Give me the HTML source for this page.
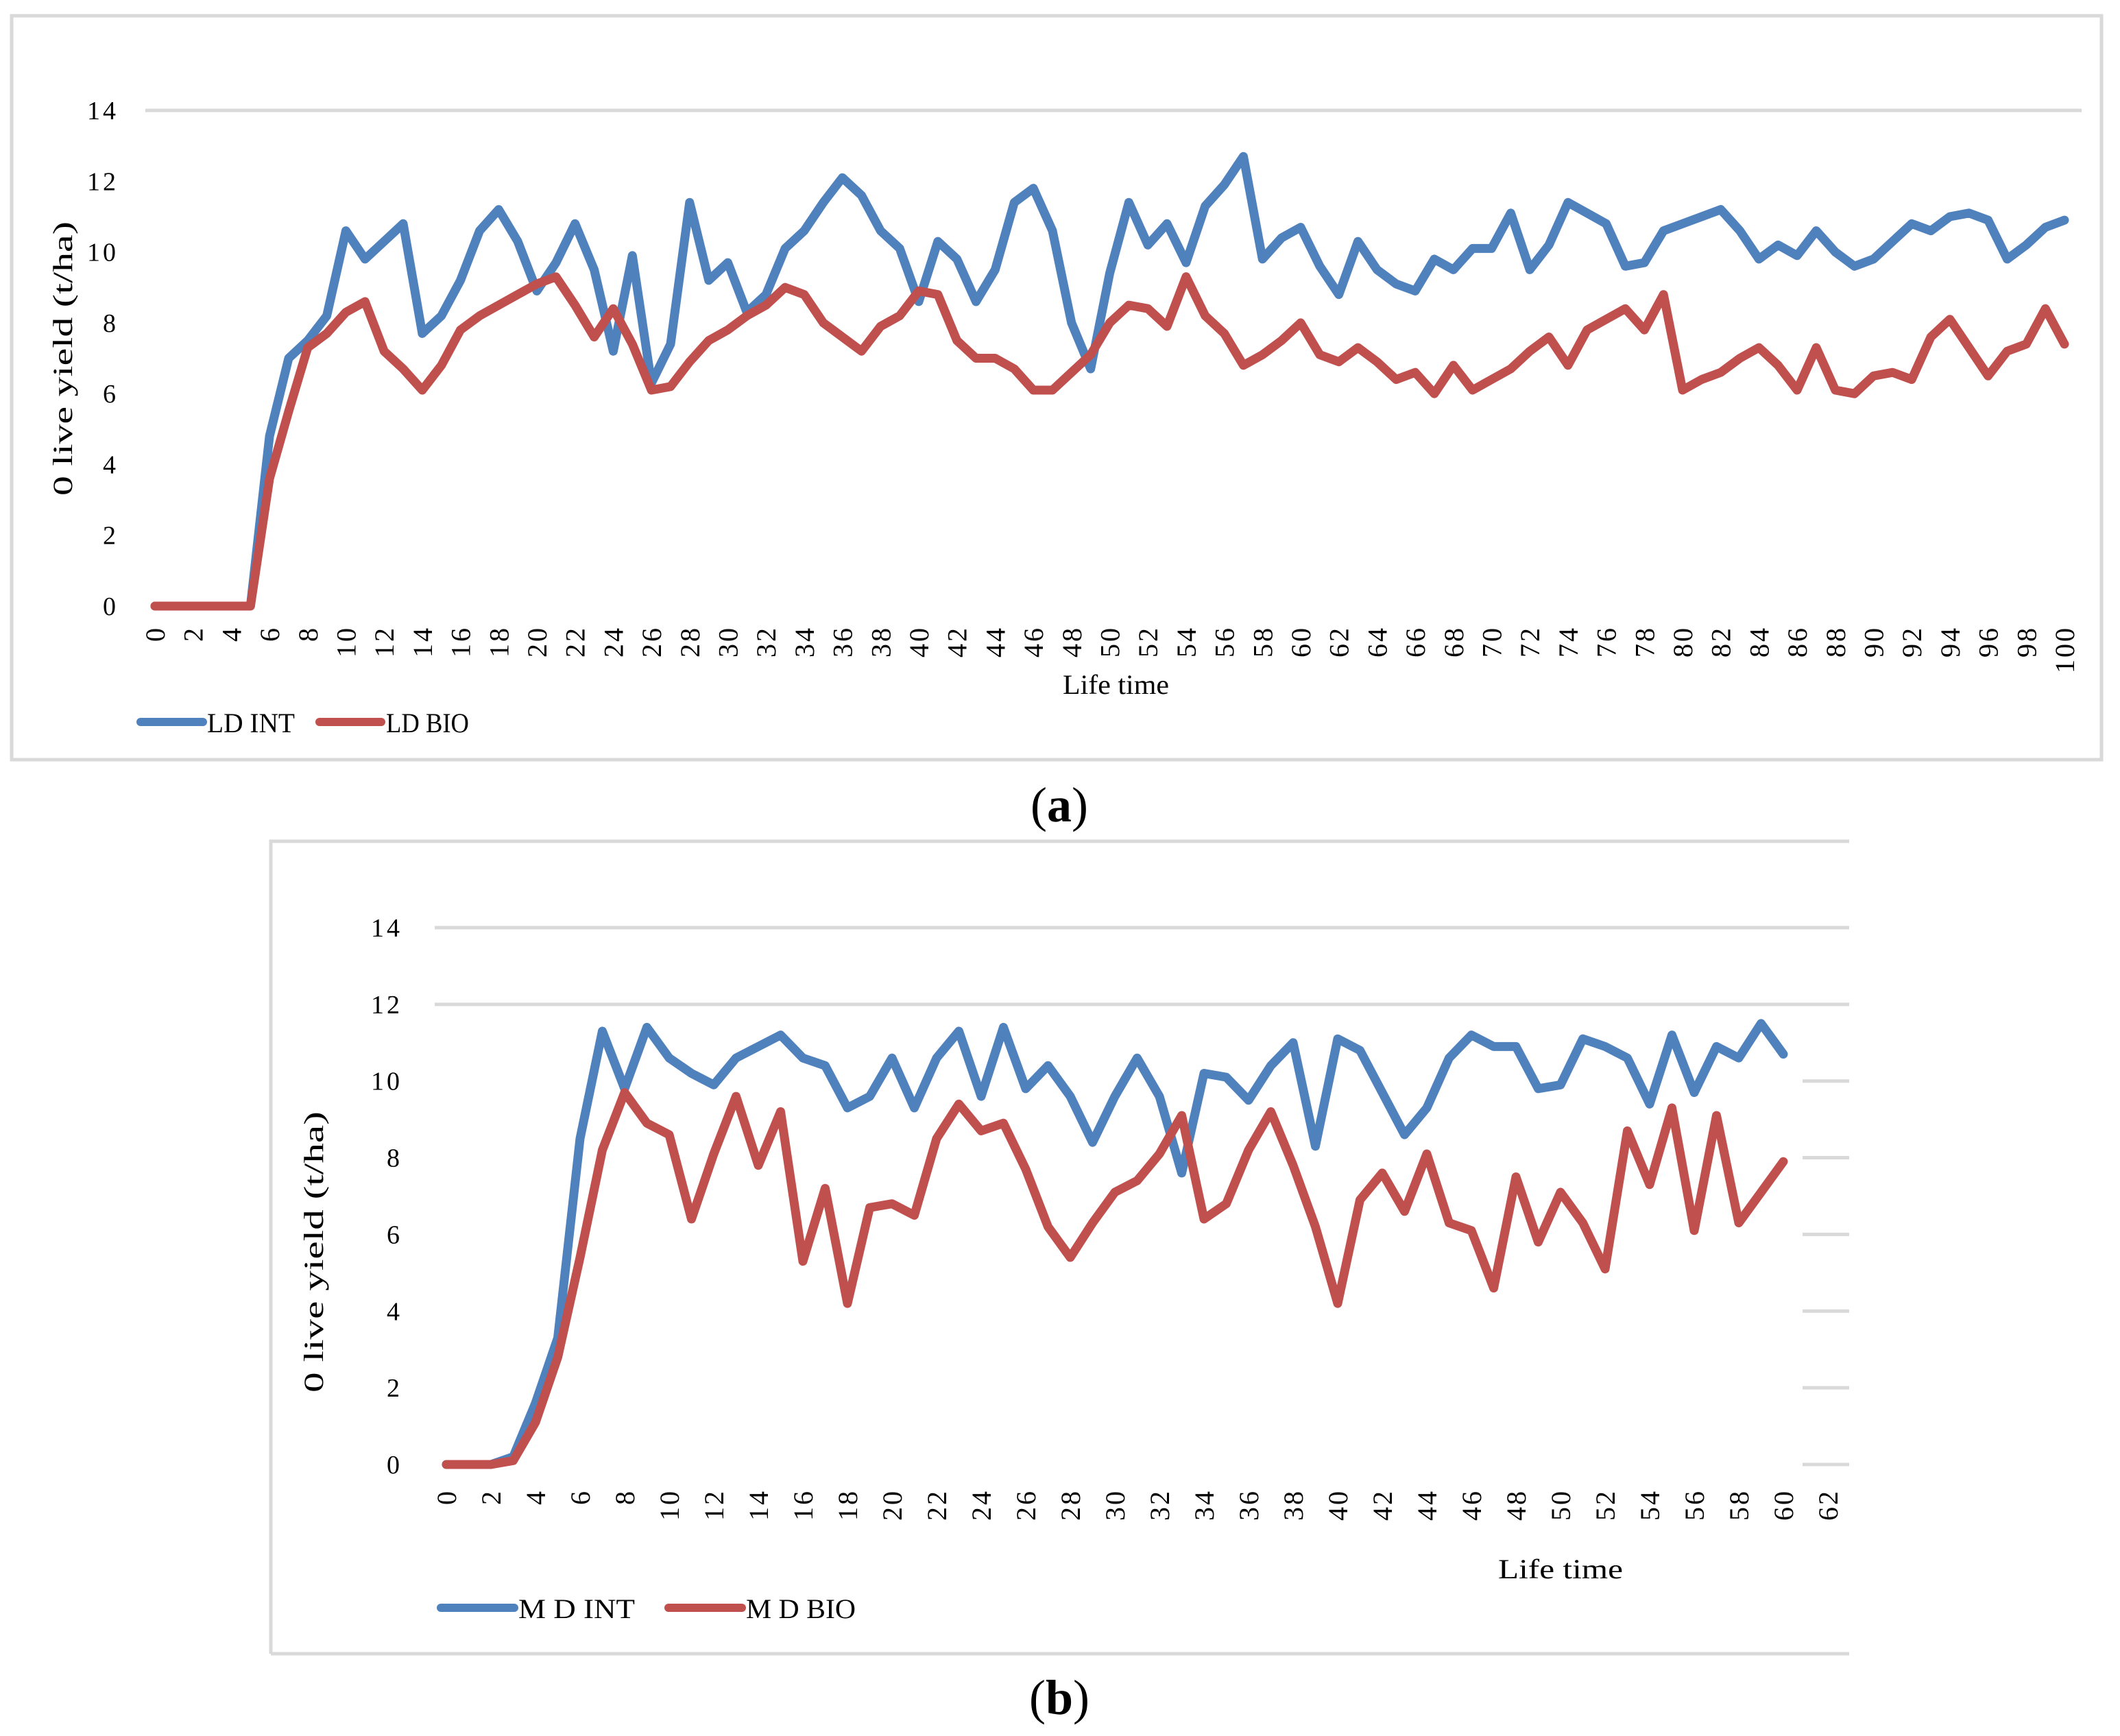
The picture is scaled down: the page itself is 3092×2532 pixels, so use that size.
<!DOCTYPE html>
<html><head><meta charset="utf-8"><style>
html,body{margin:0;padding:0;background:#fff;}
svg{display:block;}
text{font-family:"Liberation Serif",serif;fill:#000;}
</style></head><body>
<svg id="fig" width="3092" height="2532" viewBox="0 0 3092 2532" xmlns="http://www.w3.org/2000/svg">
<rect x="0" y="0" width="3092" height="2532" fill="#fff"/>
<rect x="17" y="23" width="3048" height="1085" fill="none" stroke="#d9d9d9" stroke-width="5"/>
<path d="M395 2412 L395 1227 L2697 1227 M395 2412 L2697 2412" fill="none" stroke="#d9d9d9" stroke-width="5"/>
<g id="ca"></g>
<g id="cb"></g>
<text x="1545" y="1198" font-size="72" text-anchor="middle">(<tspan font-weight="bold">a</tspan>)</text>
<text x="1545" y="2500" font-size="72" text-anchor="middle">(<tspan font-weight="bold">b</tspan>)</text>
</svg>
<script>
const yearsA = Array.from({length:101},(_,i)=>i);
const ldInt = [0,0,0,0,0,0,4.8,7.0,7.5,8.2,10.6,9.8,10.3,10.8,7.7,8.2,9.2,10.6,11.2,10.3,8.9,9.7,10.8,9.5,7.2,9.9,6.3,7.4,11.4,9.2,9.7,8.3,8.8,10.1,10.6,11.4,12.1,11.6,10.6,10.1,8.6,10.3,9.8,8.6,9.5,11.4,11.8,10.6,8.0,6.7,9.4,11.4,10.2,10.8,9.7,11.3,11.9,12.7,9.8,10.4,10.7,9.6,8.8,10.3,9.5,9.1,8.9,9.8,9.5,10.1,10.1,11.1,9.5,10.2,11.4,11.1,10.8,9.6,9.7,10.6,10.8,11.0,11.2,10.6,9.8,10.2,9.9,10.6,10.0,9.6,9.8,10.3,10.8,10.6,11.0,11.1,10.9,9.8,10.2,10.7,10.9];
const ldBio = [0,0,0,0,0,0,3.6,5.5,7.3,7.7,8.3,8.6,7.2,6.7,6.1,6.8,7.8,8.2,8.5,8.8,9.1,9.3,8.5,7.6,8.4,7.4,6.1,6.2,6.9,7.5,7.8,8.2,8.5,9.0,8.8,8.0,7.6,7.2,7.9,8.2,8.9,8.8,7.5,7.0,7.0,6.7,6.1,6.1,6.6,7.1,8.0,8.5,8.4,7.9,9.3,8.2,7.7,6.8,7.1,7.5,8.0,7.1,6.9,7.3,6.9,6.4,6.6,6.0,6.8,6.1,6.4,6.7,7.2,7.6,6.8,7.8,8.1,8.4,7.8,8.8,6.1,6.4,6.6,7.0,7.3,6.8,6.1,7.3,6.1,6.0,6.5,6.6,6.4,7.6,8.1,7.3,6.5,7.2,7.4,8.4,7.4];
const yearsB = Array.from({length:61},(_,i)=>i);
const mdInt = [0,0,0,0.2,1.6,3.3,8.5,11.3,9.8,11.4,10.6,10.2,9.9,10.6,10.9,11.2,10.6,10.4,9.3,9.6,10.6,9.3,10.6,11.3,9.6,11.4,9.8,10.4,9.6,8.4,9.6,10.6,9.6,7.6,10.2,10.1,9.5,10.4,11.0,8.3,11.1,10.8,9.7,8.6,9.3,10.6,11.2,10.9,10.9,9.8,9.9,11.1,10.9,10.6,9.4,11.2,9.7,10.9,10.6,11.5,10.7];
const mdBio = [0,0,0,0.1,1.1,2.8,5.4,8.2,9.7,8.9,8.6,6.4,8.1,9.6,7.8,9.2,5.3,7.2,4.2,6.7,6.8,6.5,8.5,9.4,8.7,8.9,7.7,6.2,5.4,6.3,7.1,7.4,8.1,9.1,6.4,6.8,8.2,9.2,7.8,6.2,4.2,6.9,7.6,6.6,8.1,6.3,6.1,4.6,7.5,5.8,7.1,6.3,5.1,8.7,7.3,9.3,6.1,9.1,6.3,7.1,7.9];
const yTicks = [0,2,4,6,8,10,12,14];
const xTicksA = Array.from({length:51},(_,i)=>i*2);
const xTicksB = Array.from({length:32},(_,i)=>i*2);
const fullGridA = [14];
const partGridA = [];
const fullGridB = [14,12];
const partGridB = [10,8,6,4,2,0];

const NS="http://www.w3.org/2000/svg";
function mk(tag,attrs,parent){const e=document.createElementNS(NS,tag);for(const k in attrs)e.setAttribute(k,attrs[k]);parent.appendChild(e);return e;}

function drawChart(g,cfg){
  const X=v=>cfg.x0+v*cfg.xs, Y=v=>cfg.y0-v*cfg.ys;
  cfg.fullGrid.forEach(t=>{
    const l=mk('line',{x1:cfg.gx1,x2:cfg.gx2,y1:Y(t),y2:Y(t),stroke:'#d9d9d9','stroke-width':5},g);
    
    
  });
  cfg.partGrid.forEach(t=>{
    const l=mk('line',{x1:cfg.gpart,x2:cfg.gx2,y1:Y(t),y2:Y(t),stroke:'#d9d9d9','stroke-width':5},g);
    
    
  });
  yTicks.forEach(t=>{
    const tx=mk('text',{x:cfg.ylabX,y:Y(t)+13,'font-size':38,'text-anchor':'end','letter-spacing':4},g);
    tx.textContent=String(t);
    
    
  });
  cfg.xt.forEach(t=>{
    const x=X(t)+14, y=cfg.xlabTop;
    const tx=mk('text',{x:x,y:y,'font-size':40,'text-anchor':'end',transform:`rotate(-90 ${x} ${y})`,'letter-spacing':3},g);
    tx.textContent=String(t);
    
    
  });
  const yt=mk('text',{x:cfg.ytX+13,y:cfg.ytY,'font-size':40,'text-anchor':'middle',transform:`rotate(-90 ${cfg.ytX+13} ${cfg.ytY})`,textLength:cfg.ytLen,lengthAdjust:'spacingAndGlyphs'},g);
  yt.textContent='0 live yield (t/ha)';
  
  
  const xt=mk('text',{x:cfg.xtX,y:cfg.xtY,'font-size':40,textLength:cfg.xtLen,lengthAdjust:'spacingAndGlyphs'},g);
  xt.textContent='Life time';
  
  
  cfg.series.forEach(s=>{
    const d=s.vals.map((v,i)=>(i?'L':'M')+X(cfg.xs_vals[i]).toFixed(1)+' '+Y(v).toFixed(1)).join(' ');
    const p=mk('path',{d:d,fill:'none',stroke:s.color,'stroke-width':13,'stroke-linejoin':'round','stroke-linecap':'round'},g);
    
    
    const ll=mk('line',{x1:s.lx1,x2:s.lx2,y1:cfg.legY,y2:cfg.legY,stroke:s.color,'stroke-width':12,'stroke-linecap':'round'},g);
    
    
    const lt=mk('text',{x:s.tx,y:cfg.legY+15,'font-size':40,textLength:s.tlen,lengthAdjust:'spacingAndGlyphs'},g);
    lt.textContent=s.label;
    
    
  });
}

drawChart(document.getElementById('ca'),{
  x0:226,xs:27.85,y0:884,ys:51.64,xs_vals:yearsA,
  gx1:212,gx2:3036,gpart:212,fullGrid:fullGridA,partGrid:partGridA,
  ylabX:173,xlabTop:913,xt:xTicksA,
  ytX:92,ytY:523,ytLen:400,xtX:1550,xtY:1012,xtLen:155,legY:1053,
  series:[
    {vals:ldInt,color:'#4f81bd',name:'ld-int-line',label:'LD INT',lx1:205,lx2:296,tx:302,tlen:128},
    {vals:ldBio,color:'#c0504d',name:'ld-bio-line',label:'LD BIO',lx1:466,lx2:556,tx:563,tlen:121}
  ]
});
drawChart(document.getElementById('cb'),{
  x0:651,xs:32.5,y0:2136,ys:55.93,xs_vals:yearsB,
  gx1:634,gx2:2697,gpart:2629,fullGrid:fullGridB,partGrid:partGridB,
  ylabX:587,xlabTop:2172,xt:xTicksB,
  ytX:458,ytY:1826,ytLen:410,xtX:2185,xtY:2302,xtLen:182,legY:2345,
  series:[
    {vals:mdInt,color:'#4f81bd',name:'md-int-line',label:'M D INT',lx1:643,lx2:750,tx:756,tlen:170},
    {vals:mdBio,color:'#c0504d',name:'md-bio-line',label:'M D BIO',lx1:975,lx2:1082,tx:1088,tlen:160}
  ]
});
</script>
</body></html>
